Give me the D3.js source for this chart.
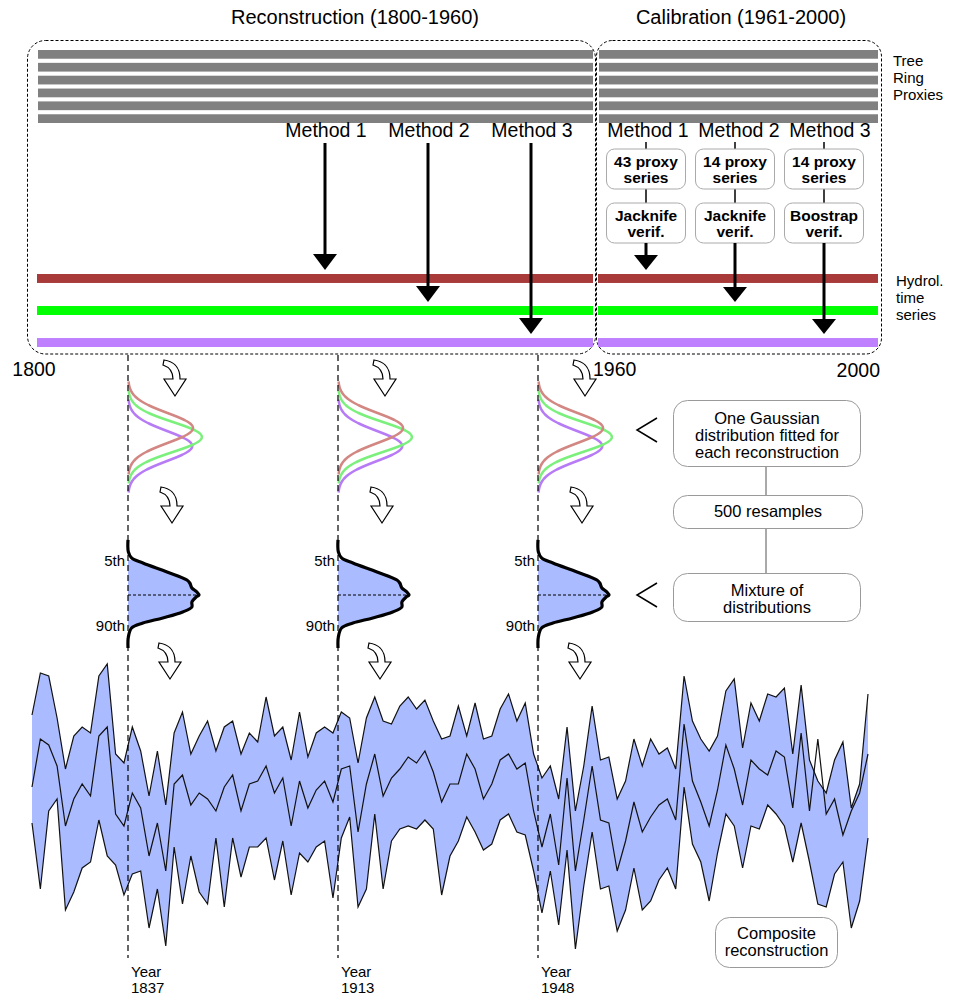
<!DOCTYPE html>
<html>
<head>
<meta charset="utf-8">
<script src="https://cdn.jsdelivr.net/npm/d3@7"></script>
<style>
body { margin: 0; background: #fff; }
svg { display: block; font-family: "Liberation Sans", Arial, sans-serif; }
</style>
</head>
<body>
<script>
// ---- data ----
var methods = ["Method 1", "Method 2", "Method 3"];
var hydroColors = ["#a83a3a", "#00ff00", "#bf80ff"];
var curveColors = ["#d28783", "#7cf07c", "#b87bf6"];
var proxyRows = [1, 2, 3, 4, 5, 6];
var calibProxies = ["43 proxy", "14 proxy", "14 proxy"];
var calibVerif = ["Jacknife", "Jacknife", "Boostrap"];
var sampleYears = [1837, 1913, 1948];

// one fitted gaussian per reconstruction (z units)
var gaussMean = [-0.6, 0, 0.6];
var gaussSd = [1, 1, 1];
var gaussPeak = [0.88, 1, 0.87];

// mixture of distributions, profile
var mixZ = [-3.67, -2.87, -2.47, -2.13, -1.53, -1.0, -0.8, -0.47, -0.2, 0, 0.13, 0.47, 0.8, 1.13, 1.53, 1.87, 2.2, 2.8, 3.53];
var mixD = [0, 0.005, 0.05, 0.21, 0.55, 0.83, 0.87, 0.9, 0.97, 1.0, 0.96, 0.9, 0.9, 0.77, 0.49, 0.21, 0.05, 0.005, 0];
var pctLabels = ["5th", "90th"];
var pctZ = [-2.33, 2.18];

// composite reconstruction (every 2nd year)
var years = d3.range(1800, 2001, 2);
var upper = [80, 94, 93, 79, 62, 73, 76, 74, 93, 97, 67, 64, 76, 68, 53, 68, 50, 74, 81, 67, 73, 78, 68, 76, 78,
  67, 74, 71, 86, 73, 76, 65, 81, 66, 74, 76, 74, 81, 79, 64, 79, 86, 78, 77, 83, 86, 82, 85, 78, 72,
  73, 83, 73, 84, 72, 73, 82, 87, 78, 84, 67, 59, 63, 52, 76, 48, 63, 83, 65, 66, 52, 58, 72, 63, 72,
  67, 69, 62, 93, 78, 72, 68, 73, 88, 92, 69, 84, 78, 87, 86, 89, 67, 90, 65, 58, 54, 65, 71, 49, 57, 87];
var median = [56, 72, 70, 63, 43, 52, 57, 53, 73, 76, 47, 43, 54, 49, 33, 44, 28, 57, 60, 50, 54, 52, 48, 56, 60,
  48, 57, 58, 63, 54, 59, 43, 58, 49, 55, 58, 51, 62, 63, 41, 57, 67, 53, 59, 62, 66, 64, 68, 61, 51,
  57, 57, 67, 62, 52, 57, 65, 67, 62, 64, 48, 36, 47, 30, 59, 28, 45, 63, 45, 44, 28, 38, 51, 41, 46,
  50, 52, 45, 77, 58, 51, 43, 55, 70, 62, 50, 65, 62, 60, 68, 66, 49, 74, 48, 72, 47, 52, 40, 48, 54, 67];
var lower = [44, 22, 48, 52, 15, 21, 29, 31, 45, 33, 30, 20, 27, 28, 9, 22, 3, 36, 17, 33, 21, 17, 39, 16, 39,
  26, 36, 36, 39, 25, 38, 20, 34, 31, 36, 38, 19, 39, 46, 16, 22, 47, 22, 38, 42, 43, 42, 45, 42, 20,
  33, 38, 46, 41, 35, 37, 45, 47, 41, 40, 28, 14, 28, 10, 35, 2, 23, 41, 22, 23, 8, 15, 29, 15, 18,
  25, 29, 22, 56, 37, 31, 18, 34, 47, 43, 29, 43, 42, 50, 47, 43, 31, 44, 31, 17, 16, 27, 31, 9, 18, 39];

var svg = d3.select("body").append("svg")
  .attr("width", 954)
  .attr("height", 997);

//scales
var xRec = d3.scaleLinear().domain([1800, 1960]).range([38, 593]);
var xCal = d3.scaleLinear().domain([1961, 2000]).range([599, 878]);
var yProxy = d3.scaleBand().domain(proxyRows).range([50, 123]).paddingInner(0.32);
var yHydro = d3.scaleBand().domain(methods).range([274, 347]).paddingInner(0.72);
var xArrRec = d3.scalePoint().domain(methods).range([325, 531]);
var xArrCal = d3.scalePoint().domain(methods).range([646, 824]);
var colX = d3.scaleOrdinal().domain(sampleYears).range([128, 338, 538]);
var gy = d3.scaleLinear().domain([0, 1]).range([437, 452]);
var my = d3.scaleLinear().domain([0, 1]).range([595, 610]);
var xs = d3.scaleLinear().domain([1800, 2000]).range([32, 868]);
var ys = d3.scaleLinear().domain([0, 100]).range([955, 655]);

// titles
svg.append("text").attr("x", 355).attr("y", 24).attr("text-anchor", "middle")
  .attr("font-size", "20px").text("Reconstruction (1800-1960)");
svg.append("text").attr("x", 741).attr("y", 24).attr("text-anchor", "middle")
  .attr("font-size", "20px").text("Calibration (1961-2000)");

// dashed frames
svg.append("rect").attr("x", 27.5).attr("y", 40.5).attr("width", 568).attr("height", 313.5)
  .attr("rx", 18).attr("fill", "none").attr("stroke", "#000").attr("stroke-dasharray", "3,2");
svg.append("rect").attr("x", 596.5).attr("y", 40.5).attr("width", 285).attr("height", 313.5)
  .attr("rx", 16).attr("fill", "none").attr("stroke", "#000").attr("stroke-dasharray", "3,2");

// tree ring proxy bars and hydrological series
[[xRec, 1800, 1960], [xCal, 1961, 2000]].forEach(function(s) {
  svg.append("g").selectAll("rect")
    .data(proxyRows)
    .enter()
    .append("rect")
    .attr("x", s[0](s[1]))
    .attr("width", s[0](s[2]) - s[0](s[1]))
    .attr("y", function(d) { return yProxy(d); })
    .attr("height", yProxy.bandwidth())
    .attr("fill", "#808080");
  svg.append("g").selectAll("rect")
    .data(methods)
    .enter()
    .append("rect")
    .attr("x", s[0](s[1]) - 1)
    .attr("width", s[0](s[2]) - s[0](s[1]) + 1)
    .attr("y", function(d) { return yHydro(d); })
    .attr("height", yHydro.bandwidth())
    .attr("fill", function(d, i) { return hydroColors[i]; });
});

function arrow(x, y0, y1, hw, hh) {
  svg.append("line").attr("x1", x).attr("x2", x).attr("y1", y0).attr("y2", y1 - hh + 1)
    .attr("stroke", "#000").attr("stroke-width", 3);
  svg.append("path").attr("d", "M" + (x - hw) + "," + (y1 - hh) + "L" + (x + hw) + "," + (y1 - hh) + "L" + x + "," + y1 + "Z")
    .attr("fill", "#000");
}

// reconstruction methods
methods.forEach(function(m) {
  svg.append("text").attr("x", xArrRec(m) + 1).attr("y", 137).attr("text-anchor", "middle")
    .attr("font-size", "19.5px").text(m);
  arrow(xArrRec(m), 143, yHydro(m) - 4, 12, 16);
});

// calibration methods
methods.forEach(function(m, i) {
  var x = xArrCal(m);
  svg.append("text").attr("x", x + 2 + i * 2).attr("y", 137).attr("text-anchor", "middle")
    .attr("font-size", "19.5px").text(m);
  svg.append("line").attr("x1", x).attr("x2", x).attr("y1", 142).attr("y2", 204)
    .attr("stroke", "#000").attr("stroke-width", 1.5);
  var boxes = [[149, calibProxies[i], "series"], [203, calibVerif[i], "verif."]];
  boxes.forEach(function(b) {
    svg.append("rect").attr("x", x - 39.5).attr("y", b[0]).attr("width", 79).attr("height", 40)
      .attr("rx", 8).attr("fill", "#fff").attr("stroke", "#aaa");
    svg.append("text").attr("x", x).attr("y", b[0] + 18).attr("text-anchor", "middle")
      .attr("font-size", "15.5px").attr("font-weight", "bold").text(b[1]);
    svg.append("text").attr("x", x).attr("y", b[0] + 34).attr("text-anchor", "middle")
      .attr("font-size", "15.5px").attr("font-weight", "bold").text(b[2]);
  });
  arrow(x, 243, yHydro(m) - 4, 12, 15);
});

// side labels
[["Tree", 66], ["Ring", 83], ["Proxies", 100]].forEach(function(t) {
  svg.append("text").attr("x", 893).attr("y", t[1]).attr("font-size", "15px").text(t[0]);
});
[["Hydrol.", 286], ["time", 303], ["series", 320]].forEach(function(t) {
  svg.append("text").attr("x", 896).attr("y", t[1]).attr("font-size", "15px").text(t[0]);
});

// year ticks
svg.append("text").attr("x", xRec(1800) - 4).attr("y", 376).attr("text-anchor", "middle").attr("font-size", "19.5px").text("1800");
svg.append("text").attr("x", xRec(1960)).attr("y", 376).attr("font-size", "19.5px").text("1960");
svg.append("text").attr("x", xCal(2000) + 2).attr("y", 377).attr("text-anchor", "end").attr("font-size", "19.5px").text("2000");

// composite reconstruction band
var band = d3.area()
  .x(function(d, i) { return xs(years[i]); })
  .y0(function(d, i) { return ys(lower[i]); })
  .y1(function(d) { return ys(d); });
svg.append("path").datum(upper).attr("d", band).attr("fill", "#aabbff");
var line = d3.line().x(function(d, i) { return xs(years[i]); }).y(function(d) { return ys(d); });
[upper, median, lower].forEach(function(s) {
  svg.append("path").datum(s).attr("d", line).attr("fill", "none")
    .attr("stroke", "#111").attr("stroke-width", 1.2).attr("stroke-linejoin", "miter");
});

// curly arrow glyph
var curl = "M2,0 C10,1 18,6 18,19 L24,19 L13,36 L2,19 L11,19 C11,12 7,7 1,5 Z";
var curlY = [360, 487, 643];
var curlDx = [34, 31, 29];

// sample columns
sampleYears.forEach(function(yr, c) {
  var cx = colX(yr);
  var g = svg.append("g");

  curlY.forEach(function(y, k) {
    g.append("path").attr("d", curl).attr("transform", "translate(" + (cx + curlDx[k]) + "," + y + ")")
      .attr("fill", "#fff").attr("stroke", "#000").attr("stroke-width", 1.2);
  });

  // fitted gaussians
  [2, 1, 0].forEach(function(i) {
    var zs = d3.range(-3.1, 3.11, 0.1);
    var gl = d3.line()
      .x(function(z) { return cx + gaussPeak[i] * Math.exp(-0.5 * z * z) * 74; })
      .y(function(z) { return gy(gaussMean[i] + z * gaussSd[i]); })
      .curve(d3.curveBasis);
    g.append("path").datum(zs).attr("d", gl).attr("fill", "none")
      .attr("stroke", curveColors[i]).attr("stroke-width", 2.5);
  });

  // mixture
  var clipId = "clip" + c;
  svg.append("clipPath").attr("id", clipId).append("rect")
    .attr("x", cx).attr("y", my(pctZ[0])).attr("width", 100).attr("height", my(pctZ[1]) - my(pctZ[0]));
  var mArea = d3.area()
    .x0(cx)
    .x1(function(d) { return cx + d * 71; })
    .y(function(d, i) { return my(mixZ[i]); })
    .curve(d3.curveCatmullRom);
  g.append("path").datum(mixD).attr("d", mArea).attr("fill", "#aabbff").attr("clip-path", "url(#" + clipId + ")");
  var mLine = d3.line()
    .x(function(d) { return cx + d * 71; })
    .y(function(d, i) { return my(mixZ[i]); })
    .curve(d3.curveCatmullRom);
  g.append("line").attr("x1", cx).attr("x2", cx + 71).attr("y1", my(0)).attr("y2", my(0))
    .attr("stroke", "#000").attr("stroke-dasharray", "3,2");
  g.append("path").datum(mixD).attr("d", mLine).attr("fill", "none")
    .attr("stroke", "#000").attr("stroke-width", 3.2);
  pctLabels.forEach(function(p, k) {
    g.append("text").attr("x", cx - 3).attr("y", my(pctZ[k]) + (k == 0 ? 6 : 3)).attr("text-anchor", "end")
      .attr("font-size", "15px").text(p);
  });

  // dashed year line
  g.append("line").attr("x1", cx).attr("x2", cx).attr("y1", 355).attr("y2", 958)
    .attr("stroke", "#000").attr("stroke-width", 1.2).attr("stroke-dasharray", "6,4");
  g.append("text").attr("x", cx + 3).attr("y", 977).attr("font-size", "15px").text("Year");
  g.append("text").attr("x", cx + 3).attr("y", 993).attr("font-size", "15px").text(yr);
});

// annotation boxes
function noteBox(x, y, w, h, lines, y0) {
  svg.append("rect").attr("x", x).attr("y", y).attr("width", w).attr("height", h)
    .attr("rx", 14).attr("fill", "#fff").attr("stroke", "#9a9a9a");
  lines.forEach(function(t, i) {
    svg.append("text").attr("x", x + w / 2).attr("y", y0 + i * 17).attr("text-anchor", "middle")
      .attr("font-size", "16.5px").text(t);
  });
}
svg.append("line").attr("x1", 766).attr("x2", 766).attr("y1", 467).attr("y2", 574).attr("stroke", "#555");
noteBox(673.5, 400.5, 187, 66, ["One Gaussian", "distribution fitted for", "each reconstruction"], 424);
noteBox(673.5, 495.5, 189, 33, ["500 resamples"], 517);
noteBox(673.5, 573.5, 187, 48, ["Mixture of", "distributions"], 596);
noteBox(715.5, 917.5, 122, 50, ["Composite", "reconstruction"], 939);

// chevrons
[gy(0) - 7, my(0)].forEach(function(y) {
  svg.append("path").attr("d", "M657," + (y - 12) + "L637," + y + "L657," + (y + 12))
    .attr("fill", "none").attr("stroke", "#000").attr("stroke-width", 1.5);
});
</script>
</body>
</html>
